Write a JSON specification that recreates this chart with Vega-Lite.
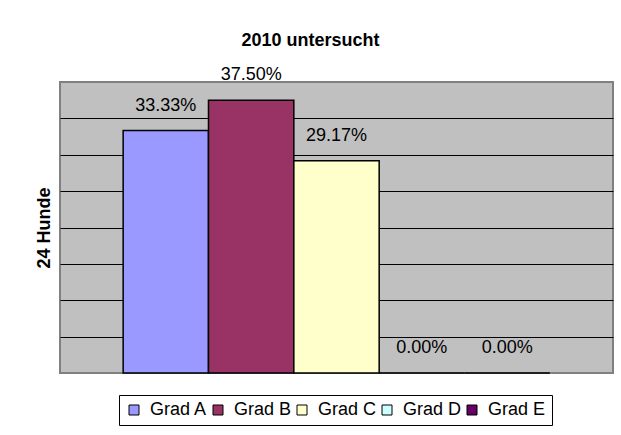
{
  "$schema": "https://vega.github.io/schema/vega-lite/v6.json",
  "width": 553,
  "height": 291,
  "autosize": {"type": "none"},
  "padding": {"left": 60, "top": 82, "right": 8, "bottom": 62},
  "background": "white",
  "title": {
    "text": "2010 untersucht",
    "font": "Liberation Sans",
    "fontSize": 18,
    "fontWeight": "bold",
    "color": "black",
    "anchor": "middle",
    "frame": "group",
    "dx": -26,
    "offset": 16
  },
  "config": {
    "view": {"fill": "#C0C0C0", "stroke": "#808080", "strokeWidth": 2},
    "font": "Liberation Sans"
  },
  "data": {
    "values": [
      {"grad": "Grad A", "anteil": 0.3333},
      {"grad": "Grad B", "anteil": 0.375},
      {"grad": "Grad C", "anteil": 0.2917},
      {"grad": "Grad D", "anteil": 0.0},
      {"grad": "Grad E", "anteil": 0.0}
    ]
  },
  "encoding": {
    "x": {
      "field": "grad",
      "type": "nominal",
      "axis": null,
      "scale": {"paddingInner": 0, "paddingOuter": 0.74}
    },
    "y": {
      "field": "anteil",
      "type": "quantitative",
      "scale": {"domain": [0, 0.4], "nice": false},
      "axis": {
        "title": "24 Hunde",
        "titleFont": "Liberation Sans",
        "titleFontSize": 18,
        "titleFontWeight": "bold",
        "titleColor": "black",
        "titlePadding": 7,
        "labels": false,
        "ticks": false,
        "domain": false,
        "grid": true,
        "gridColor": "black",
        "gridWidth": 1,
        "gridOpacity": 1,
        "values": [0.05, 0.1, 0.15, 0.2, 0.25, 0.3, 0.35]
      }
    }
  },
  "layer": [
    {
      "mark": {"type": "bar", "stroke": "black", "strokeWidth": 1.5},
      "encoding": {
        "color": {
          "field": "grad",
          "type": "nominal",
          "scale": {
            "domain": ["Grad A", "Grad B", "Grad C", "Grad D", "Grad E"],
            "range": ["#9999FF", "#993366", "#FFFFCC", "#CCFFFF", "#660066"]
          },
          "legend": {
            "title": null,
            "orient": "none",
            "direction": "horizontal",
            "legendX": 59,
            "legendY": 313,
            "symbolType": "square",
            "symbolSize": 100,
            "symbolStrokeColor": "black",
            "symbolStrokeWidth": 1,
            "symbolOpacity": 1,
            "labelFont": "Liberation Sans",
            "labelFontSize": 18,
            "labelColor": "black",
            "labelOffset": 7,
            "columnPadding": 1,
            "padding": 6,
            "strokeColor": "black",
            "fillColor": "white"
          }
        }
      }
    },
    {
      "mark": {
        "type": "text",
        "baseline": "middle",
        "dy": -25,
        "fontSize": 18,
        "font": "Liberation Sans",
        "color": "black"
      },
      "encoding": {
        "text": {"field": "anteil", "type": "quantitative", "format": ".2%"}
      }
    }
  ]
}
